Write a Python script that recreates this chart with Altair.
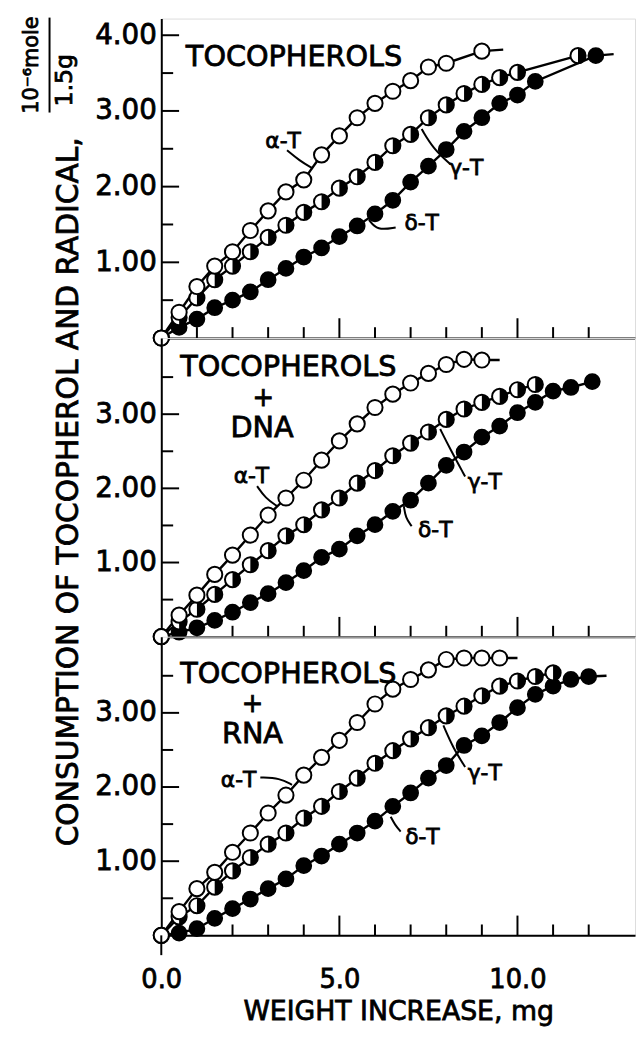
import altair as alt
import pandas as pd

FONT = "DejaVu Sans"
X_MAX = 13.3
PANEL_W = 479
PANEL_H = [323, 302, 302]
Y_MAX = [4.22, 4.027, 4.027]
SIZE = 235
TXT_STROKE = 0.8

# ---------------- data ----------------
# Panel 1: TOCOPHEROLS
P1_A_X = [0, 0.5, 1.0, 1.5, 2.0, 2.5, 3.0, 3.5, 4.0, 4.5, 5.0, 5.5, 6.0, 6.5, 7.0, 7.5, 8.0, 9.0]
P1_A_Y = [0, 0.34, 0.68, 0.95, 1.14, 1.42, 1.68, 1.93, 2.09, 2.42, 2.67, 2.91, 3.10, 3.26, 3.40, 3.58, 3.63, 3.79]
P1_A_TAIL = [9.6, 3.81]
P1_G_X = [0, 0.5, 1.0, 1.5, 2.0, 2.5, 3.0, 3.5, 4.0, 4.5, 5.0, 5.5, 6.0, 6.5, 7.0, 7.5, 8.0, 8.5, 9.0, 9.5, 10.0, 11.7]
P1_G_Y = [0, 0.27, 0.53, 0.77, 0.95, 1.14, 1.33, 1.49, 1.66, 1.80, 1.98, 2.13, 2.32, 2.54, 2.69, 2.91, 3.08, 3.23, 3.35, 3.44, 3.51, 3.73]
P1_G_TAIL = None
P1_D_X = [0, 0.5, 1.0, 1.5, 2.0, 2.5, 3.0, 3.5, 4.0, 4.5, 5.0, 5.5, 6.0, 6.5, 7.0, 7.5, 8.0, 8.5, 9.0, 9.5, 10.0, 10.5, 12.2]
P1_D_Y = [0, 0.14, 0.25, 0.40, 0.50, 0.61, 0.77, 0.92, 1.07, 1.19, 1.34, 1.48, 1.64, 1.82, 2.06, 2.27, 2.49, 2.73, 2.91, 3.10, 3.21, 3.39, 3.73]
P1_D_TAIL = [12.7, 3.75]

# Panel 2: TOCOPHEROLS + DNA
P2_A_X = [0, 0.5, 1.0, 1.5, 2.0, 2.5, 3.0, 3.5, 4.0, 4.5, 5.0, 5.5, 6.0, 6.5, 7.0, 7.5, 8.0, 8.5, 9.0]
P2_A_Y = [0, 0.29, 0.56, 0.84, 1.10, 1.37, 1.64, 1.87, 2.11, 2.38, 2.64, 2.87, 3.09, 3.27, 3.42, 3.55, 3.67, 3.74, 3.73]
P2_A_TAIL = [9.5, 3.73]
P2_G_X = [0, 0.5, 1.0, 1.5, 2.0, 2.5, 3.0, 3.5, 4.0, 4.5, 5.0, 5.5, 6.0, 6.5, 7.0, 7.5, 8.0, 8.5, 9.0, 9.5, 10.0, 10.5]
P2_G_Y = [0, 0.20, 0.37, 0.57, 0.77, 0.97, 1.16, 1.36, 1.51, 1.71, 1.87, 2.07, 2.24, 2.44, 2.61, 2.76, 2.93, 3.07, 3.16, 3.24, 3.33, 3.40]
P2_G_TAIL = None
P2_D_X = [0, 0.5, 1.0, 1.5, 2.0, 2.5, 3.0, 3.5, 4.0, 4.5, 5.0, 5.5, 6.0, 6.5, 7.0, 7.5, 8.0, 8.5, 9.0, 9.5, 10.0, 10.5, 11.0, 11.5, 12.1]
P2_D_Y = [0, 0.06, 0.12, 0.22, 0.33, 0.46, 0.58, 0.73, 0.89, 1.07, 1.18, 1.36, 1.51, 1.69, 1.84, 2.07, 2.31, 2.49, 2.69, 2.84, 3.02, 3.16, 3.31, 3.36, 3.44]
P2_D_TAIL = None

# Panel 3: TOCOPHEROLS + RNA
P3_A_X = [0, 0.5, 1.0, 1.5, 2.0, 2.5, 3.0, 3.5, 4.0, 4.5, 5.0, 5.5, 6.0, 6.5, 7.0, 7.5, 8.0, 8.5, 9.0, 9.5]
P3_A_Y = [0, 0.32, 0.63, 0.85, 1.12, 1.38, 1.65, 1.89, 2.16, 2.40, 2.63, 2.87, 3.12, 3.32, 3.45, 3.58, 3.72, 3.74, 3.74, 3.74]
P3_A_TAIL = [10.0, 3.74]
P3_G_X = [0, 0.5, 1.0, 1.5, 2.0, 2.5, 3.0, 3.5, 4.0, 4.5, 5.0, 5.5, 6.0, 6.5, 7.0, 7.5, 8.0, 8.5, 9.0, 9.5, 10.0, 10.5, 11.0]
P3_G_Y = [0, 0.25, 0.40, 0.65, 0.87, 1.05, 1.23, 1.38, 1.58, 1.74, 1.94, 2.12, 2.32, 2.49, 2.65, 2.80, 2.96, 3.09, 3.23, 3.36, 3.43, 3.49, 3.54]
P3_G_TAIL = None
P3_D_X = [0, 0.5, 1.0, 1.5, 2.0, 2.5, 3.0, 3.5, 4.0, 4.5, 5.0, 5.5, 6.0, 6.5, 7.0, 7.5, 8.0, 8.5, 9.0, 9.5, 10.0, 10.5, 11.0, 11.5, 12.0]
P3_D_Y = [0, 0.03, 0.09, 0.23, 0.36, 0.49, 0.63, 0.76, 0.94, 1.07, 1.23, 1.38, 1.54, 1.74, 1.92, 2.12, 2.29, 2.56, 2.69, 2.87, 3.07, 3.25, 3.36, 3.45, 3.49]
P3_D_TAIL = [12.5, 3.50]

# curve labels: (text, x, y)
P1_LABELS = [("α-T", 3.42, 2.60), ("γ-T", 8.56, 2.25), ("δ-T", 7.31, 1.52)]
P2_LABELS = [("α-T", 2.53, 2.16), ("γ-T", 9.08, 2.09), ("δ-T", 7.69, 1.44)]
P3_LABELS = [("α-T", 2.17, 2.09), ("γ-T", 9.08, 2.19), ("δ-T", 7.33, 1.32)]

# leader lines from labels to curves: lists of (x, y)
P1_LEADERS = [[(3.53, 2.48), (3.89, 2.34), (4.25, 2.24)],
              [(7.31, 2.76), (7.64, 2.50), (8.11, 2.30)],
              [(5.83, 1.56), (6.06, 1.42), (6.58, 1.46)]]
P2_LEADERS = [[(2.69, 2.03), (2.92, 1.87), (3.25, 1.76)],
              [(7.83, 2.80), (8.11, 2.53), (8.53, 2.16)],
              [(6.81, 1.76), (6.86, 1.60), (7.03, 1.49)]]
P3_LEADERS = [[(2.78, 2.13), (3.33, 2.12), (3.67, 2.03)],
              [(7.92, 2.83), (8.19, 2.53), (8.53, 2.27)],
              [(6.44, 1.60), (6.56, 1.49), (6.72, 1.40)]]

# panel titles: left-aligned main line, centred extra lines
P1_TITLE = ("TOCOPHEROLS", 0.69, 3.71)
P1_EXTRA = []
P2_TITLE = ("TOCOPHEROLS", 0.53, 3.63)
P2_EXTRA = [("+", 2.86, 3.22), ("DNA", 2.83, 2.81)]
P3_TITLE = ("TOCOPHEROLS", 0.53, 3.52)
P3_EXTRA = [("+", 2.56, 3.12), ("RNA", 2.56, 2.71)]

X_TICKS_MINOR = [1, 2, 3, 4, 6, 7, 8, 9, 11, 12]
X_TICKS_MAJOR = [5, 10]
Y_TICKS_MINOR = [[0.5, 1.5, 2.5, 3.5], [0.5, 1.5, 2.5, 3.5], [0.5, 1.5, 2.5, 3.5]]
Y_TICKS_MAJOR = [[1, 2, 3, 4], [1, 2, 3], [1, 2, 3]]
X_LABELS = [0, 5, 10]

Y_TITLE = "CONSUMPTION OF TOCOPHEROL AND RADICAL,"
Y_UNIT_NUM = "10⁻⁶mole"
Y_UNIT_DEN = "1.5g"
X_TITLE = "WEIGHT INCREASE, mg"

HALF_RIGHT = "M0,-1A1,1,0,0,1,0,1Z"


def x_enc(axis):
    return alt.X("x:Q", scale=alt.Scale(domain=[0, X_MAX], nice=False, zero=False), axis=axis)


def y_enc(p, axis):
    return alt.Y("y:Q", scale=alt.Scale(domain=[0, Y_MAX[p]], nice=False, zero=False), axis=axis)


def txt(size, align, **kw):
    return dict(font=FONT, fontSize=size, color="black", stroke="black", strokeWidth=TXT_STROKE,
                align=align, baseline="middle", **kw)


def make_panel(p, series, labels, leaders, title, extra, last):
    H = PANEL_H[p]
    if last:
        xaxis = alt.Axis(title=X_TITLE, values=X_LABELS, format=".1f", ticks=False, tickSize=0,
                         grid=False, labelFlush=False, labelFontSize=26, labelFont=FONT,
                         labelColor="black", labelPadding=32, titleFontSize=27, titleFont=FONT,
                         titleFontWeight="normal", titleColor="black", titlePadding=6,
                         domainColor="black", domainWidth=2)
    else:
        xaxis = alt.Axis(title=None, labels=False, ticks=False, grid=False,
                         domainColor="black", domainWidth=2)
    yaxis = alt.Axis(title=None, values=Y_TICKS_MAJOR[p], format=".2f", ticks=False, tickSize=0,
                     grid=False, labelFontSize=28, labelFont=FONT, labelColor="black",
                     labelPadding=5, domainColor="black", domainWidth=2, labelOverlap=False)
    X = x_enc(xaxis)
    Y = y_enc(p, yaxis)

    layers = []
    # inward ticks
    layers.append(alt.Chart(pd.DataFrame({"x": X_TICKS_MINOR})).mark_rule(color="black", strokeWidth=2)
                  .encode(x=X, y=alt.value(H), y2=alt.value(H - 11)))
    layers.append(alt.Chart(pd.DataFrame({"x": X_TICKS_MAJOR})).mark_rule(color="black", strokeWidth=2)
                  .encode(x=X, y=alt.value(H), y2=alt.value(H - 20)))
    layers.append(alt.Chart(pd.DataFrame({"y": Y_TICKS_MINOR[p]})).mark_rule(color="black", strokeWidth=2)
                  .encode(y=Y, x=alt.value(0), x2=alt.value(12)))
    layers.append(alt.Chart(pd.DataFrame({"y": Y_TICKS_MAJOR[p]})).mark_rule(color="black", strokeWidth=2)
                  .encode(y=Y, x=alt.value(0), x2=alt.value(18)))

    # lines
    rows = []
    pts = {}
    for name, xs, ys, tail in series:
        pts[name] = pd.DataFrame({"x": xs, "y": ys})
        for i, (xv, yv) in enumerate(zip(xs, ys)):
            rows.append({"s": name, "x": xv, "y": yv, "o": i})
        if tail:
            rows.append({"s": name, "x": tail[0], "y": tail[1], "o": len(xs)})
    layers.append(alt.Chart(pd.DataFrame(rows)).mark_line(color="black", strokeWidth=2.4)
                  .encode(x=X, y=Y, detail="s:N", order="o:Q"))

    # leaders
    lrows = []
    for k, lead in enumerate(leaders):
        for i, (xv, yv) in enumerate(lead):
            lrows.append({"id": k, "x": xv, "y": yv, "o": i})
    layers.append(alt.Chart(pd.DataFrame(lrows)).mark_line(color="black", strokeWidth=2, interpolate="basis")
                  .encode(x=X, y=Y, detail="id:N", order="o:Q"))

    # points: delta (filled), gamma (half), alpha (open)
    layers.append(alt.Chart(pts["d"]).mark_point(shape="circle", filled=True, fill="black", stroke="black",
                                                   strokeWidth=1.6, size=SIZE, opacity=1)
                  .encode(x=X, y=Y))
    layers.append(alt.Chart(pts["g"]).mark_point(shape="circle", filled=True, fill="white", stroke="black",
                                                   strokeWidth=2, size=SIZE, opacity=1)
                  .encode(x=X, y=Y))
    layers.append(alt.Chart(pts["g"]).mark_point(shape=HALF_RIGHT, filled=True, fill="black",
                                                   strokeWidth=0, size=SIZE, opacity=1)
                  .encode(x=X, y=Y))
    layers.append(alt.Chart(pts["a"]).mark_point(shape="circle", filled=True, fill="white", stroke="black",
                                                   strokeWidth=2, size=SIZE, opacity=1)
                  .encode(x=X, y=Y))

    # curve labels
    layers.append(alt.Chart(pd.DataFrame(labels, columns=["t", "x", "y"]))
                  .mark_text(**txt(22, "center"))
                  .encode(x=X, y=Y, text="t:N"))
    # panel titles
    layers.append(alt.Chart(pd.DataFrame([title], columns=["t", "x", "y"]))
                  .mark_text(**txt(29, "left"))
                  .encode(x=X, y=Y, text="t:N"))
    if extra:
        layers.append(alt.Chart(pd.DataFrame(extra[:1], columns=["t", "x", "y"]))
                      .mark_text(**txt(26, "center"))
                      .encode(x=X, y=Y, text="t:N"))
        layers.append(alt.Chart(pd.DataFrame(extra[1:], columns=["t", "x", "y"]))
                      .mark_text(**txt(29, "center"))
                      .encode(x=X, y=Y, text="t:N"))

    if p == 0:
        one = pd.DataFrame({"t": [Y_TITLE]})
        layers.append(alt.Chart(one).mark_text(**txt(30, "left", angle=270))
                      .encode(x=alt.value(-93), y=alt.value(837), text="t:N"))
        layers.append(alt.Chart(pd.DataFrame({"t": [Y_UNIT_DEN]})).mark_text(**txt(24, "left", angle=270))
                      .encode(x=alt.value(-97), y=alt.value(89), text="t:N"))
        layers.append(alt.Chart(pd.DataFrame({"t": [Y_UNIT_NUM]})).mark_text(**txt(21, "center", angle=270))
                      .encode(x=alt.value(-131), y=alt.value(47), text="t:N"))
        layers.append(alt.Chart(pd.DataFrame({"t": [Y_UNIT_NUM]})).mark_rule(color="black", strokeWidth=2)
                      .encode(x=alt.value(-113), y=alt.value(-1), y2=alt.value(95)))
    if last:
        layers.append(alt.Chart(pd.DataFrame({"x": [0]})).mark_rule(color="black", strokeWidth=2)
                      .encode(x=X, y=alt.value(H), y2=alt.value(H + 20)))

    return alt.layer(*layers).properties(width=PANEL_W, height=H)


p1 = make_panel(0, [("d", P1_D_X, P1_D_Y, P1_D_TAIL), ("g", P1_G_X, P1_G_Y, P1_G_TAIL),
                    ("a", P1_A_X, P1_A_Y, P1_A_TAIL)], P1_LABELS, P1_LEADERS, P1_TITLE, P1_EXTRA, False)
p2 = make_panel(1, [("d", P2_D_X, P2_D_Y, P2_D_TAIL), ("g", P2_G_X, P2_G_Y, P2_G_TAIL),
                    ("a", P2_A_X, P2_A_Y, P2_A_TAIL)], P2_LABELS, P2_LEADERS, P2_TITLE, P2_EXTRA, False)
p3 = make_panel(2, [("d", P3_D_X, P3_D_Y, P3_D_TAIL), ("g", P3_G_X, P3_G_Y, P3_G_TAIL),
                    ("a", P3_A_X, P3_A_Y, P3_A_TAIL)], P3_LABELS, P3_LEADERS, P3_TITLE, P3_EXTRA, True)

chart = (alt.vconcat(p1, p2, p3, spacing=0, bounds="flush")
         .resolve_scale(x="independent", y="independent")
         .properties(padding={"left": 12, "top": 2, "right": 0, "bottom": 0})
         .configure_view(stroke=None)
         .configure(font=FONT, background="white",
                    style={"guide-label": {"stroke": "black", "strokeWidth": TXT_STROKE},
                           "guide-title": {"stroke": "black", "strokeWidth": TXT_STROKE}}))

chart.save("out.html", embed_options={"renderer": "svg", "actions": False})
